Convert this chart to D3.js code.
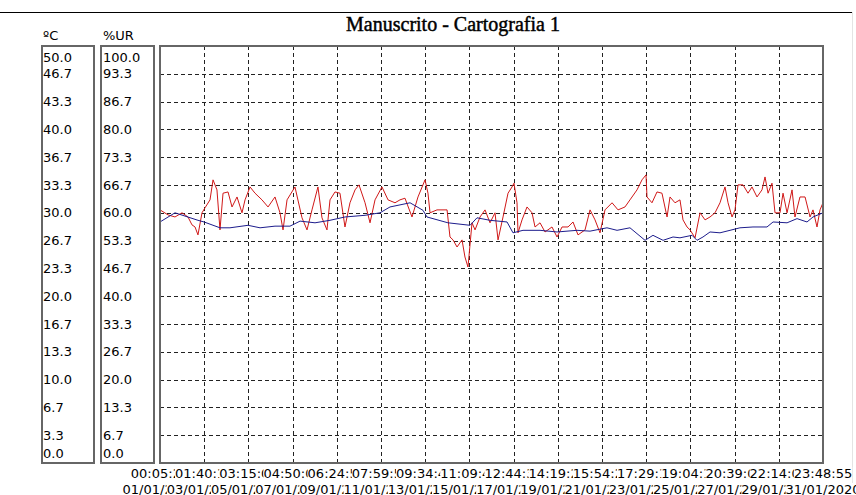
<!DOCTYPE html>
<html>
<head>
<meta charset="utf-8">
<script src="https://cdn.jsdelivr.net/npm/d3@7"></script>
<style>
  body { margin: 0; background: #fff; }
  svg { display: block; }
  text { font-family: "DejaVu Sans", sans-serif; font-size: 13px; fill: #000; }
</style>
</head>
<body>
<script>
// temperature (blue, ºC) - hours since start
var tempHours = [0,16.8,42.6,49.4,67.3,78.5,98.7,112.2,129,145.8,157.1,173.9,190.7,207.5,230,246.8,258,280.5,295,299.5,323,347.8,355.6,370.2,389.3,396,407.2,426.3,445.4,467.8,482.4,501.4,512.7,527.2,544.1,553,564.3,575.5,583.3,596.8,602.4,609.1,617,628.2,639.4,650.6,665.2,680.9,687.7,703.4,714.6,725.8,732.5,743.7];
var tempValues = [28.9,30.0,29.1,28.9,28.2,28.2,28.5,28.2,28.4,28.4,29.0,28.8,29.1,29.5,29.7,30.0,30.7,31.2,30.3,29.5,28.8,28.5,29.4,29.1,28.9,27.6,27.9,27.9,27.7,27.9,27.8,28.2,27.9,28.2,26.7,27.3,26.7,27.1,27.0,27.3,26.7,27.1,27.7,27.6,27.9,28.2,28.3,28.3,28.9,28.8,29.3,28.9,29.5,30.0];

// relative humidity (red, %UR)
var rhHours = [0,9,16.8,24.7,31.4,35.9,39.3,42.6,47.1,50.5,56.1,59.5,63.9,67.3,70.7,76.3,80.8,86.4,92,95.4,101,106.6,114.4,121.2,129,134.6,138,142.5,151.4,159.3,164.9,170.5,177.2,181.7,187.3,190.7,196.3,201.9,207.5,213.1,218.8,223.2,230,235.6,241.2,249,255.8,263.6,269.2,274.8,282.7,289.4,297.3,300.6,302.9,310.7,322,325.3,328.7,333.2,338.8,342.1,345.5,350,353.4,359,364.6,370.2,375.8,379.2,384.8,390.4,394.9,397.1,400.5,401.6,406.1,411.7,417.3,420.7,426.3,431.9,439.7,445.4,451,457.7,463.3,468.9,476.8,482.4,488,493.6,499.2,507.1,513.8,521.6,527.2,535.1,540.7,545.2,546.3,551.9,557.5,563.1,568.8,572.1,577.7,583.3,586.7,591.2,594.6,600.2,605.8,611.4,617,622.6,628.2,633.8,637.2,641.7,645,648.4,654,659.6,664.1,669.7,675.3,678.7,682.1,686.5,689.9,695.5,698.9,703.4,709,712.3,717.9,723.6,729.2,732.5,737,740.4,743.7];
var rhValues = [60.7,59.5,59.0,60.0,59.0,57.1,56.6,54.7,60.0,61.2,63.1,67.9,65.5,55.9,64.7,65.0,61.4,63.8,60.0,63.1,66.2,64.7,63.1,61.4,63.8,60.0,55.9,63.1,66.2,58.8,55.9,60.7,66.2,58.8,55.9,63.1,65.0,64.7,56.6,62.4,65.5,66.7,62.4,57.6,63.1,66.2,63.1,62.4,63.1,63.5,59.0,63.8,67.9,64.7,60.0,60.7,60.7,54.2,53.5,51.8,53.5,49.4,47.0,57.6,55.9,59.0,60.7,57.6,60.0,53.5,59.0,64.7,66.2,67.1,62.4,55.2,58.3,61.4,60.0,56.6,57.6,55.4,56.6,54.2,56.6,56.6,57.8,54.7,55.9,60.7,58.3,55.2,60.7,62.4,60.7,61.4,63.1,65.5,67.9,69.1,63.8,62.4,65.0,64.7,59.0,63.8,62.4,63.1,58.3,56.6,55.9,54.0,60.0,58.3,59.0,60.0,62.4,66.2,62.4,59.0,60.7,66.7,66.7,64.7,66.2,63.8,65.5,68.6,64.7,67.1,60.0,60.0,64.7,60.0,65.5,59.0,63.8,63.8,59.0,60.7,56.6,60.7,62.4];

var timeLabels = ["00:05:20","01:40:14","03:15:09","04:50:03","06:24:57","07:59:52","09:34:46","11:09:40","12:44:35","14:19:29","15:54:23","17:29:18","19:04:12","20:39:06","22:14:01","23:48:55"];
var dateLabels = ["01/01/2020","03/01/2020","05/01/2020","07/01/2020","09/01/2020","11/01/2020","13/01/2020","15/01/2020","17/01/2020","19/01/2020","21/01/2020","23/01/2020","25/01/2020","27/01/2020","29/01/2020","31/01/2020"];
var tempLabels = ["0.0","3.3","6.7","10.0","13.3","16.7","20.0","23.3","26.7","30.0","33.3","36.7","40.0","43.3","46.7","50.0"];
var rhLabels = ["0.0","6.7","13.3","20.0","26.7","33.3","40.0","46.7","53.3","60.0","66.7","73.3","80.0","86.7","93.3","100.0"];

var width = 856, height = 495;
var L = 160, R = 823, T = 46, B = 463;
var totalHours = 743.73;

var svg = d3.select("body").append("svg")
  .attr("width", width)
  .attr("height", height);

var x = d3.scaleLinear().domain([0, totalHours]).range([L, R]);
var yT = d3.scaleLinear().domain([0, 50]).range([B, T]);
var yH = d3.scaleLinear().domain([0, 100]).range([B, T]);

var tickHours = d3.range(16).map(function(k) { return k * totalHours / 15; });
var tempTicks = d3.range(16).map(function(k) { return k * 50 / 15; });
var rhTicks = d3.range(16).map(function(k) { return k * 100 / 15; });

// top rule and faint right edge
svg.append("line").attr("x1", 0).attr("x2", 853).attr("y1", 12.5).attr("y2", 12.5)
  .attr("stroke", "#000").attr("stroke-width", 1);
svg.append("line").attr("x1", 852.5).attr("x2", 852.5).attr("y1", 12).attr("y2", height)
  .attr("stroke", "#e4e4e4").attr("stroke-width", 1);

// title
svg.append("text")
  .attr("x", 453).attr("y", 31)
  .attr("text-anchor", "middle")
  .style("font-family", "'Liberation Serif', 'Times New Roman', serif")
  .style("font-size", "20px")
  .style("stroke", "#000").style("stroke-width", 0.45)
  .text("Manuscrito - Cartografia 1");

// unit headers
svg.append("text").attr("x", 43).attr("y", 40).text("ºC");
svg.append("text").attr("x", 103).attr("y", 40).text("%UR");

// grid
var grid = svg.append("g").attr("stroke", "#222").attr("stroke-dasharray", "4,3");
grid.selectAll(".vg").data(tickHours.slice(1, 15)).join("line")
  .attr("class", "vg")
  .attr("x1", function(d) { return Math.round(x(d)) + 0.5; })
  .attr("x2", function(d) { return Math.round(x(d)) + 0.5; })
  .attr("y1", T).attr("y2", B);
grid.selectAll(".hg").data(tempTicks.slice(1, 15)).join("line")
  .attr("class", "hg")
  .attr("x1", L).attr("x2", R)
  .attr("y1", function(d) { return Math.round(yT(d)) + 0.5; })
  .attr("y2", function(d) { return Math.round(yT(d)) + 0.5; });

// data lines
svg.append("clipPath").attr("id", "plotclip").append("rect")
  .attr("x", L).attr("y", T).attr("width", R - L).attr("height", B - T);

var rhLine = d3.line().x(function(d) { return x(d[0]); }).y(function(d) { return yH(d[1]); });
var tLine = d3.line().x(function(d) { return x(d[0]); }).y(function(d) { return yT(d[1]); });

svg.append("path")
  .datum(d3.zip(rhHours, rhValues))
  .attr("clip-path", "url(#plotclip)")
  .attr("fill", "none").attr("stroke", "#d01818").attr("stroke-width", 1)
  .attr("d", rhLine);

svg.append("path")
  .datum(d3.zip(tempHours, tempValues))
  .attr("clip-path", "url(#plotclip)")
  .attr("fill", "none").attr("stroke", "#1c1c8c").attr("stroke-width", 1)
  .attr("d", tLine);

// boxes
var boxes = [[42, 94], [101, 154], [L, R]];
svg.selectAll(".box").data(boxes).join("rect")
  .attr("class", "box")
  .attr("x", function(d) { return d[0]; })
  .attr("y", T)
  .attr("width", function(d) { return d[1] - d[0]; })
  .attr("height", B - T)
  .attr("fill", "none").attr("stroke", "#666").attr("stroke-width", 2);

// y labels, kept inside the boxes
function clampY(v) { return Math.max(57, Math.min(453, v)); }
svg.append("g").selectAll("text").data(tempTicks).join("text")
  .attr("x", 43)
  .attr("y", function(d) { return clampY(yT(d)); })
  .attr("dy", "0.36em")
  .text(function(d, i) { return tempLabels[i]; });
svg.append("g").selectAll("text").data(rhTicks).join("text")
  .attr("x", 103)
  .attr("y", function(d) { return clampY(yH(d)); })
  .attr("dy", "0.36em")
  .text(function(d, i) { return rhLabels[i]; });

// x labels: each drawn on white so the next one covers the tail of the previous
function rowLabels(labels, baseline) {
  var g = svg.append("g");
  tickHours.forEach(function(h, i) {
    var cell = g.append("g");
    var bg = cell.append("rect").attr("fill", "#fff");
    var t = cell.append("text")
      .attr("x", x(h)).attr("y", baseline)
      .attr("text-anchor", "middle")
      .text(labels[i]);
    var w = t.node().getComputedTextLength();
    bg.attr("x", x(h) - w / 2).attr("y", baseline - 11).attr("width", w).attr("height", 14);
  });
}
rowLabels(timeLabels, 478);
rowLabels(dateLabels, 494);
</script>
</body>
</html>
